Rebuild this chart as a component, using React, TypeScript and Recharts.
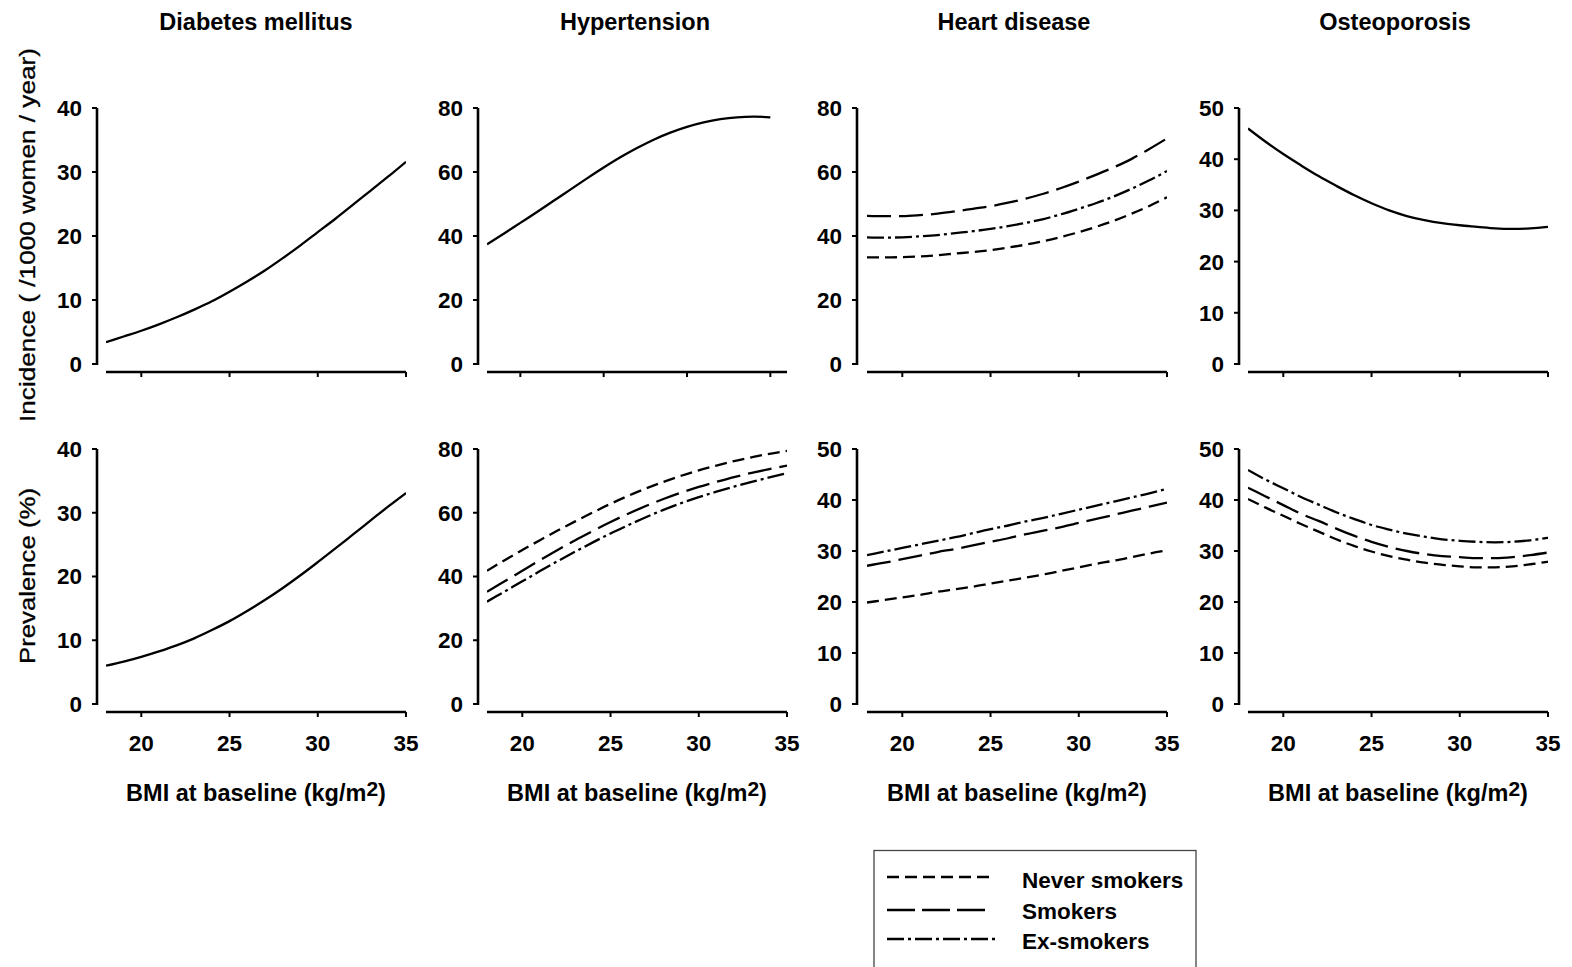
import React from 'react';
import { LineChart, Line, XAxis, YAxis } from 'recharts';

// ---------------- data ----------------
const bmi = [18, 19, 20, 21, 22, 23, 24, 25, 26, 27, 28, 29, 30, 31, 32, 33, 34, 35];
const xTicks = [20, 25, 30, 35];

const columnTitles = ['Diabetes mellitus', 'Hypertension', 'Heart disease', 'Osteoporosis'];
const rowTitles = ['Incidence ( /1000 women / year)', 'Prevalence (%)'];
const xTitle = 'BMI at baseline (kg/m';
const legendLabels = ['Never smokers', 'Smokers', 'Ex-smokers'];

// Incidence row
const diabIncidence = [3.4, 4.3, 5.2, 6.2, 7.3, 8.5, 9.8, 11.3, 12.9, 14.6, 16.5, 18.5, 20.6, 22.7, 24.9, 27.1, 29.3, 31.6];
const hyperIncidence = [37.4, 40.7, 44.1, 47.5, 51.0, 54.5, 58.0, 61.4, 64.6, 67.5, 70.1, 72.3, 74.1, 75.5, 76.5, 77.1, 77.3, 77.1];
const heartIncNever = [33.3, 33.3, 33.4, 33.6, 34.0, 34.5, 35.0, 35.6, 36.4, 37.3, 38.4, 39.7, 41.2, 42.9, 44.8, 47.0, 49.4, 52.1];
const heartIncSmokers = [46.3, 46.2, 46.2, 46.5, 47.0, 47.7, 48.5, 49.3, 50.4, 51.7, 53.2, 55.0, 57.0, 59.2, 61.5, 64.1, 67.2, 70.5];
const heartIncEx = [39.6, 39.5, 39.6, 39.9, 40.3, 40.9, 41.5, 42.2, 43.1, 44.1, 45.3, 46.8, 48.5, 50.3, 52.4, 54.8, 57.4, 60.3];
const osteoIncidence = [46.0, 43.4, 41.0, 38.8, 36.7, 34.8, 33.0, 31.4, 30.0, 28.9, 28.1, 27.5, 27.1, 26.8, 26.5, 26.4, 26.5, 26.8];

// Prevalence row
const diabPrevalence = [6.0, 6.65, 7.4, 8.25, 9.2, 10.3, 11.6, 13.0, 14.6, 16.3, 18.15, 20.15, 22.25, 24.4, 26.6, 28.8, 31.0, 33.1];
const hyperPrevNever = [41.8, 45.1, 48.3, 51.4, 54.4, 57.3, 60.1, 62.8, 65.3, 67.6, 69.7, 71.6, 73.3, 74.8, 76.2, 77.4, 78.5, 79.4];
const hyperPrevSmokers = [35.2, 38.5, 41.8, 45.1, 48.3, 51.4, 54.3, 57.1, 59.7, 62.1, 64.3, 66.3, 68.1, 69.7, 71.2, 72.5, 73.7, 74.8];
const hyperPrevEx = [32.1, 35.3, 38.5, 41.7, 44.8, 47.8, 50.7, 53.5, 56.1, 58.6, 60.9, 63.0, 64.9, 66.6, 68.2, 69.7, 71.1, 72.4];
const heartPrevNever = [19.9, 20.4, 20.9, 21.4, 22.0, 22.5, 23.0, 23.6, 24.2, 24.8, 25.4, 26.1, 26.8, 27.5, 28.1, 28.8, 29.5, 30.1];
const heartPrevSmokers = [27.1, 27.7, 28.4, 29.1, 29.8, 30.4, 31.1, 31.8, 32.5, 33.3, 34.0, 34.7, 35.5, 36.3, 37.1, 37.9, 38.7, 39.5];
const heartPrevEx = [29.2, 29.9, 30.6, 31.3, 32.0, 32.7, 33.5, 34.3, 35.0, 35.8, 36.5, 37.3, 38.1, 38.9, 39.7, 40.5, 41.3, 42.2];
const osteoPrevNever = [40.2, 38.5, 36.9, 35.3, 33.8, 32.3, 31.0, 29.9, 29.0, 28.3, 27.7, 27.3, 27.0, 26.8, 26.8, 27.0, 27.4, 27.9];
const osteoPrevSmokers = [42.4, 40.7, 39.0, 37.3, 35.9, 34.4, 33.0, 31.8, 30.8, 30.0, 29.4, 29.0, 28.8, 28.6, 28.6, 28.8, 29.2, 29.7];
const osteoPrevEx = [45.9, 44.0, 42.3, 40.6, 39.1, 37.6, 36.3, 35.1, 34.2, 33.4, 32.8, 32.3, 32.0, 31.8, 31.7, 31.8, 32.1, 32.6];

const ticks40 = [0, 10, 20, 30, 40];
const ticks80 = [0, 20, 40, 60, 80];
const ticks50 = [0, 10, 20, 30, 40, 50];

// ---------------- styles ----------------
const FONT = '"Liberation Sans", Arial, Helvetica, sans-serif';
const INK = '#000';
const DASH: Record<string, string | undefined> = {
  solid: undefined,
  never: '12 6',
  smokers: '24 8',
  ex: '17 4 3 4',
};

const COLS = [
  { yx: 97, xs: 106, xe: 406 },
  { yx: 478, xs: 487, xe: 787 },
  { yx: 857, xs: 867, xe: 1167 },
  { yx: 1239, xs: 1248, xe: 1548 },
];
const ROWS = [
  { top: 108, zero: 364, axis: 372 },
  { top: 449, zero: 704, axis: 712 },
];
const TITLE_X = [256, 635, 1014, 1395];

type Series = { key: string; values: number[]; style: string };
type PanelDef = {
  col: number;
  row: number;
  yMax: number;
  yTicks: number[];
  xMax: number;
  series: Series[];
};

const panels: PanelDef[] = [
  { col: 0, row: 0, yMax: 40, yTicks: ticks40, xMax: 35, series: [{ key: 'all', values: diabIncidence, style: 'solid' }] },
  { col: 1, row: 0, yMax: 80, yTicks: ticks80, xMax: 36, series: [{ key: 'all', values: hyperIncidence, style: 'solid' }] },
  {
    col: 2, row: 0, yMax: 80, yTicks: ticks80, xMax: 35, series: [
      { key: 'never', values: heartIncNever, style: 'never' },
      { key: 'smokers', values: heartIncSmokers, style: 'smokers' },
      { key: 'ex', values: heartIncEx, style: 'ex' },
    ],
  },
  { col: 3, row: 0, yMax: 50, yTicks: ticks50, xMax: 35, series: [{ key: 'all', values: osteoIncidence, style: 'solid' }] },
  { col: 0, row: 1, yMax: 40, yTicks: ticks40, xMax: 35, series: [{ key: 'all', values: diabPrevalence, style: 'solid' }] },
  {
    col: 1, row: 1, yMax: 80, yTicks: ticks80, xMax: 35, series: [
      { key: 'never', values: hyperPrevNever, style: 'never' },
      { key: 'smokers', values: hyperPrevSmokers, style: 'smokers' },
      { key: 'ex', values: hyperPrevEx, style: 'ex' },
    ],
  },
  {
    col: 2, row: 1, yMax: 50, yTicks: ticks50, xMax: 35, series: [
      { key: 'never', values: heartPrevNever, style: 'never' },
      { key: 'smokers', values: heartPrevSmokers, style: 'smokers' },
      { key: 'ex', values: heartPrevEx, style: 'ex' },
    ],
  },
  {
    col: 3, row: 1, yMax: 50, yTicks: ticks50, xMax: 35, series: [
      { key: 'never', values: osteoPrevNever, style: 'never' },
      { key: 'smokers', values: osteoPrevSmokers, style: 'smokers' },
      { key: 'ex', values: osteoPrevEx, style: 'ex' },
    ],
  },
];

const LEFT_W = 80;
const TOP_M = 12;
const RIGHT_M = 16;

function Panel({ def }: { def: PanelDef }) {
  const c = COLS[def.col];
  const r = ROWS[def.row];
  const showLabels = def.row === 1;
  const plotW = c.xe - c.yx;
  const plotH = r.axis - r.top;
  const xAxisH = showLabels ? 52 : 14;
  const width = LEFT_W + plotW + RIGHT_M;
  const height = TOP_M + plotH + xAxisH;
  const padLeft = c.xs - c.yx;
  const padBottom = r.axis - r.zero;

  const data = bmi.map((b, i) => {
    const row: Record<string, number> = { bmi: b };
    def.series.forEach((s) => {
      row[s.key] = s.values[i];
    });
    return row;
  });

  const tickStyle = { fill: INK, fontSize: 22.5, fontWeight: 'bold' as const, fontFamily: FONT };

  return (
    <div style={{ position: 'absolute', left: c.yx - LEFT_W, top: r.top - TOP_M }}>
      <LineChart width={width} height={height} data={data} margin={{ top: TOP_M, right: RIGHT_M, bottom: 0, left: 0 }}>
        <XAxis
          dataKey="bmi"
          type="number"
          domain={[18, def.xMax]}
          ticks={xTicks}
          allowDataOverflow
          padding={{ left: padLeft, right: 0 }}
          height={xAxisH}
          axisLine={{ stroke: INK, strokeWidth: 2.6, strokeDasharray: `0 ${padLeft} 2000` }}
          tickLine={{ stroke: INK, strokeWidth: 2 }}
          tickSize={5}
          tickMargin={18}
          tick={tickStyle}
          tickFormatter={showLabels ? (v: number) => String(v) : () => ''}
          interval={0}
        />
        <YAxis
          type="number"
          domain={[0, def.yMax]}
          ticks={def.yTicks}
          allowDataOverflow
          padding={{ top: 0, bottom: padBottom }}
          width={LEFT_W}
          axisLine={{ stroke: INK, strokeWidth: 2.6, strokeDasharray: `${r.zero - r.top + 1} 2000` }}
          tickLine={{ stroke: INK, strokeWidth: 2 }}
          tickSize={5}
          tickMargin={10}
          tick={tickStyle}
          interval={0}
        />
        {def.series.map((s) => (
          <Line
            key={s.key}
            dataKey={s.key}
            type="monotone"
            stroke={INK}
            strokeWidth={2.3}
            strokeDasharray={DASH[s.style]}
            dot={false}
            activeDot={false}
            isAnimationActive={false}
          />
        ))}
      </LineChart>
    </div>
  );
}

function Overlay() {
  const legendStyles = ['never', 'smokers', 'ex'];
  const legendLineY = [877, 910, 939];
  const legendTextY = [888, 919, 949];
  const legendLineEnd = [995, 986, 995];
  return (
    <svg
      width={1572}
      height={967}
      style={{ position: 'absolute', left: 0, top: 0, pointerEvents: 'none' }}
      fontFamily={FONT}
    >
      {columnTitles.map((t, i) => (
        <text key={t} x={TITLE_X[i]} y={30} textAnchor="middle" fontSize={23.5} fontWeight="bold" fill={INK}>
          {t}
        </text>
      ))}
      <text
        x={27}
        y={235}
        transform="rotate(-90 27 235)"
        textAnchor="middle"
        dominantBaseline="central"
        fontSize={22}
        fill={INK}
        stroke={INK}
        strokeWidth={0.3}
        textLength={374}
        lengthAdjust="spacingAndGlyphs"
      >
        {rowTitles[0]}
      </text>
      <text
        x={27}
        y={576}
        transform="rotate(-90 27 576)"
        textAnchor="middle"
        dominantBaseline="central"
        fontSize={22}
        fill={INK}
        stroke={INK}
        strokeWidth={0.3}
        textLength={176}
        lengthAdjust="spacingAndGlyphs"
      >
        {rowTitles[1]}
      </text>
      {COLS.map((c, i) => (
        <text key={i} x={(c.xs + c.xe) / 2} y={801} textAnchor="middle" fontSize={23.5} fontWeight="bold" fill={INK}>
          {xTitle}
          <tspan dy={-5} fontSize={21}>2</tspan>
          <tspan dy={5}>)</tspan>
        </text>
      ))}
      <rect x={874} y={850.5} width={322} height={140} fill="none" stroke="#444" strokeWidth={1.3} />
      {legendLabels.map((l, i) => (
        <g key={l}>
          <line
            x1={887}
            x2={legendLineEnd[i]}
            y1={legendLineY[i]}
            y2={legendLineY[i]}
            stroke={INK}
            strokeWidth={2.3}
            strokeDasharray={legendStyles[i] === 'smokers' ? '28 7' : DASH[legendStyles[i]]}
          />
          <text x={1022} y={legendTextY[i]} fontSize={22.5} fontWeight="bold" fill={INK}>
            {l}
          </text>
        </g>
      ))}
    </svg>
  );
}

export default function App() {
  return (
    <div style={{ position: 'absolute', left: 0, top: 0, width: 1572, height: 967, background: '#fff', overflow: 'hidden', fontFamily: FONT }}>
      {panels.map((p, i) => (
        <Panel key={i} def={p} />
      ))}
      <Overlay />
    </div>
  );
}
